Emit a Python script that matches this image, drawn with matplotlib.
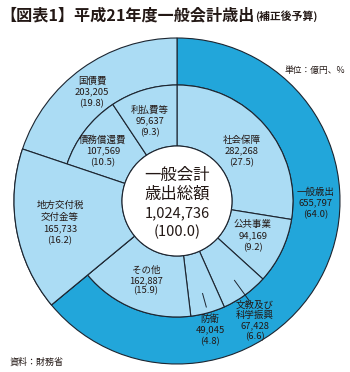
import matplotlib
matplotlib.use("Agg")
import matplotlib.pyplot as plt
from matplotlib.patches import Wedge, Circle
import numpy as np

plt.rcParams['font.family'] = ['Noto Sans CJK JP', 'DejaVu Sans']

# ---- data (億円, %) ----
outer_names = ["一般歳出", "地方交付税\n交付金等", "国債費"]
outer_values = [655797, 165733, 203205]
outer_pcts = [64.0, 16.2, 19.8]

inner_names = ["社会保障", "公共事業", "文教及び\n科学振興", "防衛", "その他",
               "地方交付税\n交付金等", "債務償還費", "利払費等"]
inner_values = [282268, 94169, 67428, 49045, 162887, 165733, 107569, 95637]
inner_pcts = [27.5, 9.2, 6.6, 4.8, 15.9, 16.2, 10.5, 9.3]

total_value = 1024736
title_main = "【図表1】平成21年度一般会計歳出"
title_sub = "(補正後予算)"
unit_text = "単位：億円、%"
source_text = "資料：財務省"

# ---- style ----
DARK = "#22a6da"
LIGHT = "#abdcf4"
EDGE = "#1c2530"
TXT = "#231815"
W, H = 350, 372
CX, CY = 177, H - 201
R_OUT, R_MID, R_IN = 163, 116, 55

fig = plt.figure(figsize=(W / 100, H / 100), dpi=100)
ax = fig.add_axes([0, 0, 1, 1])

def Y(py):
    return H - py

outer_w, _ = ax.pie(outer_values, radius=R_OUT, center=(CX, CY), startangle=90,
                    counterclock=False, colors=[DARK, LIGHT, LIGHT],
                    wedgeprops=dict(width=R_OUT - R_MID, edgecolor=EDGE, linewidth=0.8))
inner_w, _ = ax.pie(inner_values, radius=R_MID, center=(CX, CY), startangle=90,
                    counterclock=False, colors=[LIGHT] * len(inner_values),
                    wedgeprops=dict(width=R_MID - R_IN, edgecolor=EDGE, linewidth=0.8))
ax.set_xlim(0, W)
ax.set_ylim(0, H)
ax.set_aspect("equal")
ax.axis("off")

# 地方交付税 spans both rings
w = outer_w[1]
ax.add_patch(Wedge((CX, CY), R_OUT, w.theta1, w.theta2, width=R_OUT - R_IN,
                   facecolor=LIGHT, edgecolor=EDGE, linewidth=0.8, zorder=2))
ax.add_patch(Circle((CX, CY), R_IN, facecolor="white", edgecolor=EDGE,
                    linewidth=0.8, zorder=3))

# leader lines for 文教 and 防衛
for idx, (r0, r1) in [(2, (98, 123)), (3, (96, 110))]:
    wd = inner_w[idx]
    a = np.deg2rad((wd.theta1 + wd.theta2) / 2)
    ax.plot([CX + r0 * np.cos(a), CX + r1 * np.cos(a)],
            [CY + r0 * np.sin(a), CY + r1 * np.sin(a)],
            color=EDGE, linewidth=0.7, zorder=4)

def fmt(v):
    return f"{v:,}"

FS = 6.8
def label(x, py, name, value, pct, dy=11.3):
    lines = name.split("\n") + [fmt(value), f"({pct:.1f})"]
    for i, s in enumerate(lines):
        ax.text(x, Y(py + i * dy), s, ha="center", va="center", fontsize=FS,
                color=TXT, zorder=5)

# outer labels
label(92, 81, outer_names[2], outer_values[2], outer_pcts[2])
label(316, 192, outer_names[0], outer_values[0], outer_pcts[0])
label(60, 205, outer_names[1], outer_values[1], outer_pcts[1], dy=12)
# inner labels
label(242, 140, inner_names[0], inner_values[0], inner_pcts[0])
label(253, 225, inner_names[1], inner_values[1], inner_pcts[1])
label(255, 305, inner_names[2], inner_values[2], inner_pcts[2], dy=10.5)
label(210, 319, inner_names[3], inner_values[3], inner_pcts[3])
label(146, 270, inner_names[4], inner_values[4], inner_pcts[4], dy=10.5)
label(103, 140, inner_names[6], inner_values[6], inner_pcts[6])
label(150, 110, inner_names[7], inner_values[7], inner_pcts[7])

# centre
ax.text(CX, Y(175), "一般会計", ha="center", va="center", fontsize=11.8, color=TXT, zorder=5)
ax.text(CX, Y(194), "歳出総額", ha="center", va="center", fontsize=11.8, color=TXT, zorder=5)
ax.text(CX, Y(213), fmt(total_value), ha="center", va="center", fontsize=10.5, color=TXT, zorder=5)
ax.text(CX, Y(232), f"({100:.1f})", ha="center", va="center", fontsize=10.5, color=TXT, zorder=5)

ax.text(315, Y(70), unit_text, ha="center", va="center", fontsize=6.3, color=TXT)
ax.text(10, Y(362), source_text, ha="left", va="center", fontsize=6.5, color=TXT)
t = ax.text(0, Y(15), title_main, ha="left", va="center", fontsize=11.6,
            fontweight="bold", color=TXT)
fig.canvas.draw()
bb = t.get_window_extent(renderer=fig.canvas.get_renderer())
x_end = ax.transData.inverted().transform((bb.x1, bb.y0))[0]
ax.text(x_end + 1, Y(16), title_sub, ha="left", va="center", fontsize=7.8,
        fontweight="bold", color=TXT)

fig.savefig("out.png", dpi=100)
